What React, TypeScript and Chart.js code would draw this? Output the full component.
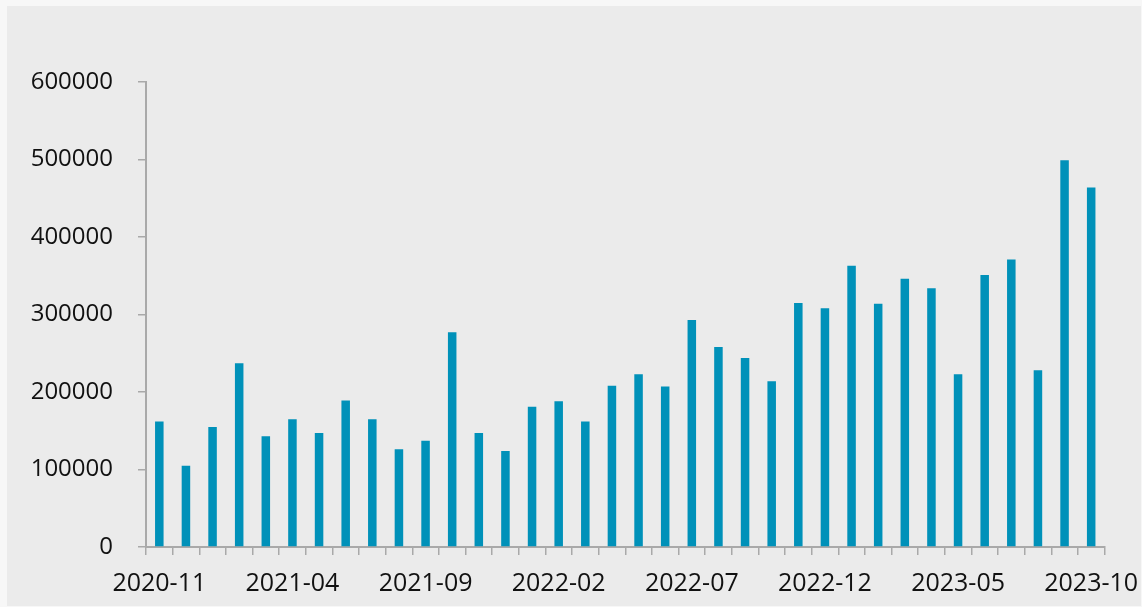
import React, { useEffect, useRef } from "react";
import { Chart, registerables } from "chart.js";

Chart.register(...registerables);

const categories: string[] = [
  "2020-11", "2020-12", "2021-01", "2021-02", "2021-03", "2021-04",
  "2021-05", "2021-06", "2021-07", "2021-08", "2021-09", "2021-10",
  "2021-11", "2021-12", "2022-01", "2022-02", "2022-03", "2022-04",
  "2022-05", "2022-06", "2022-07", "2022-08", "2022-09", "2022-10",
  "2022-11", "2022-12", "2023-01", "2023-02", "2023-03", "2023-04",
  "2023-05", "2023-06", "2023-07", "2023-08", "2023-09", "2023-10",
];

const values: number[] = [
  162000, 105000, 155000, 237000, 143000, 165000,
  147000, 189000, 165000, 126000, 137000, 277000,
  147000, 124000, 181000, 188000, 162000, 208000,
  223000, 207000, 293000, 258000, 244000, 214000,
  315000, 308000, 363000, 314000, 346000, 334000,
  223000, 351000, 371000, 228000, 499000, 464000,
];

const yTicks: number[] = [0, 100000, 200000, 300000, 400000, 500000, 600000];
const labelEvery = 5;

const FONT = "'Open Sans', 'DejaVu Sans', sans-serif";
const AXIS_COLOR = "#a9a9a9";

export default function App() {
  const ref = useRef<HTMLCanvasElement | null>(null);

  useEffect(() => {
    if (!ref.current) return;
    const chart = new Chart(ref.current, {
      type: "bar",
      data: {
        labels: categories,
        datasets: [
          {
            data: values,
            backgroundColor: "#0091b9",
            borderWidth: 0,
            barPercentage: 0.32,
            categoryPercentage: 1,
          },
        ],
      },
      options: {
        animation: false,
        responsive: false,
        maintainAspectRatio: false,
        layout: { padding: { left: 0, right: 36.5, top: 76, bottom: 0 } },
        plugins: {
          legend: { display: false },
          tooltip: { enabled: false },
        },
        scales: {
          x: {
            type: "category",
            offset: true,
            grid: {
              offset: true,
              drawOnChartArea: false,
              drawTicks: true,
              tickLength: 8,
              color: AXIS_COLOR,
              lineWidth: 1.5,
            },
            border: { display: true, color: AXIS_COLOR, width: 2 },
            ticks: {
              autoSkip: false,
              maxRotation: 0,
              padding: 14,
              color: "#111",
              font: { family: FONT, size: 25 },
              callback: (_v: any, i: number) =>
                i % labelEvery === 0 ? categories[i] : "",
            },
            afterFit: (scale: any) => {
              scale.height = 59;
              scale.paddingLeft = 0;
              scale.paddingRight = 0;
            },
          },
          y: {
            min: 0,
            max: 600000,
            afterBuildTicks: (scale: any) => {
              scale.ticks = yTicks.map((v) => ({ value: v }));
            },
            grid: {
              drawOnChartArea: false,
              drawTicks: true,
              tickLength: 8,
              color: AXIS_COLOR,
              lineWidth: 1.5,
            },
            border: { display: true, color: AXIS_COLOR, width: 2 },
            ticks: {
              padding: 25,
              color: "#111",
              font: { family: FONT, size: 24 },
              callback: (v: any) => String(v),
            },
            afterFit: (scale: any) => {
              scale.width = 139;
            },
          },
        },
      },
    });
    return () => chart.destroy();
  }, []);

  return (
    <div
      style={{
        position: "absolute",
        left: 0,
        top: 0,
        width: 1142,
        height: 607,
        background: "#f7f7f7",
      }}
    >
      <div
        style={{
          position: "absolute",
          left: 7,
          top: 6,
          width: 1134,
          height: 600,
          background: "#ebebeb",
        }}
      >
        <canvas ref={ref} width={1134} height={600} style={{ display: "block" }} />
      </div>
    </div>
  );
}
